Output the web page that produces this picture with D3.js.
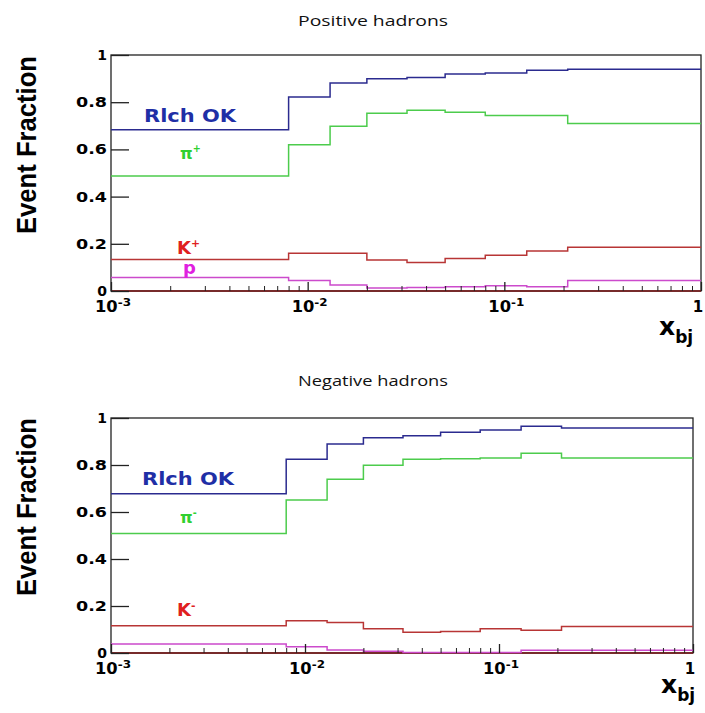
<!DOCTYPE html>
<html>
<head>
<meta charset="utf-8">
<script src="https://cdn.jsdelivr.net/npm/d3@7"></script>
<style>
  html, body { margin: 0; padding: 0; background: #fff; }
  svg { display: block; }
</style>
</head>
<body>
<svg id="chart" width="705" height="713"></svg>
<script>
// ---------- DATA ----------
const binEdges = [0.001, 0.008, 0.013, 0.02, 0.032, 0.05, 0.08, 0.13, 0.21, 1];

// Positive hadrons
const posRichOK = [0.683, 0.822, 0.881, 0.899, 0.905, 0.919, 0.924, 0.935, 0.940];
const posPion   = [0.487, 0.620, 0.698, 0.753, 0.766, 0.757, 0.744, 0.744, 0.710];
const posKaon   = [0.134, 0.160, 0.160, 0.131, 0.121, 0.138, 0.152, 0.169, 0.185];
const posProton = [0.057, 0.044, 0.025, 0.013, 0.015, 0.018, 0.022, 0.018, 0.044];
const posOther  = [0, 0, 0, 0, 0, 0, 0, 0, 0];

// Negative hadrons
const negRichOK = [0.678, 0.824, 0.889, 0.916, 0.925, 0.939, 0.949, 0.965, 0.957];
const negPion   = [0.508, 0.651, 0.739, 0.799, 0.824, 0.827, 0.830, 0.850, 0.830];
const negKaon   = [0.116, 0.137, 0.130, 0.103, 0.088, 0.092, 0.103, 0.097, 0.113];
const negProton = [0.038, 0.027, 0.013, 0.007, 0.002, 0.002, 0.002, 0.012, 0.012];
const negOther  = [0, 0, 0, 0, 0, 0, 0, 0, 0];

const yTickValues = [0, 0.2, 0.4, 0.6, 0.8, 1];
const yTickLabels = ["0", "0.2", "0.4", "0.6", "0.8", "1"];
const xMajorTicks = [0.001, 0.01, 0.1, 1];
const xMajorBase  = ["10", "10", "10", "1"];
const xMajorExp   = ["-3", "-2", "-1", ""];

const titles = ["Positive hadrons", "Negative hadrons"];
const yTitle = "Event Fraction";

// ---------- DRAW ----------
const svg = d3.select("#chart");

const colors = {
  richLine: "#2b2b8f", richText: "#1f2fa6",
  pionLine: "#4ccc4c", pionText: "#2fd02f",
  kaonLine: "#b83535", kaonText: "#e02020",
  protLine: "#cc4acc", protText: "#e020e0",
  other: "#7a1515"
};
const boldFont = "'DejaVu Sans', 'Liberation Sans', Arial, sans-serif";

function drawPanel(cfg) {
  const g = svg.append("g");
  const x = d3.scaleLog().domain([0.001, 1]).range([cfg.left, cfg.right]);
  const y = d3.scaleLinear().domain([0, 1]).range([cfg.bottom, cfg.top]);

  // title
  g.append("text")
    .attr("x", cfg.titleX).attr("y", cfg.titleY)
    .attr("text-anchor", "middle")
    .attr("font-family", "'Open Sans', 'DejaVu Sans', sans-serif")
    .attr("font-size", 15)
    .attr("textLength", 150).attr("lengthAdjust", "spacingAndGlyphs")
    .attr("fill", "#111")
    .text(cfg.title);

  // y title
  g.append("text")
    .attr("transform", `translate(${cfg.yTitleX},${cfg.yTitleY}) rotate(-90)`)
    .attr("text-anchor", "middle")
    .attr("font-family", "'Liberation Sans Narrow', 'Arial Narrow', 'Liberation Sans', sans-serif")
    .attr("font-weight", "bold")
    .attr("font-size", 28)
    .attr("textLength", 178).attr("lengthAdjust", "spacingAndGlyphs")
    .attr("fill", "#000")
    .text(yTitle);

  // frame
  g.append("rect")
    .attr("x", cfg.left).attr("y", cfg.top)
    .attr("width", cfg.right - cfg.left).attr("height", cfg.bottom - cfg.top)
    .attr("fill", "none").attr("stroke", "#222").attr("stroke-width", 1.3);

  // series
  const line = d3.line()
    .x(d => x(d[0])).y(d => y(d[1]))
    .curve(d3.curveStepAfter);
  function pts(vals) {
    const p = vals.map((v, i) => [binEdges[i], v]);
    p.push([binEdges[binEdges.length - 1], vals[vals.length - 1]]);
    return p;
  }
  const series = [
    [cfg.other, colors.other],
    [cfg.prot, colors.protLine],
    [cfg.kaon, colors.kaonLine],
    [cfg.pion, colors.pionLine],
    [cfg.rich, colors.richLine]
  ];
  series.forEach(([vals, col]) => {
    g.append("path")
      .attr("d", line(pts(vals)))
      .attr("fill", "none")
      .attr("stroke", col)
      .attr("stroke-width", 1.5);
  });

  // y axis
  const yAxis = d3.axisLeft(y)
    .tickValues(yTickValues)
    .tickSize(-18)
    .tickPadding(4)
    .tickFormat((d, i) => yTickLabels[i]);
  const ya = g.append("g").attr("transform", `translate(${cfg.left},0)`).call(yAxis);
  ya.select(".domain").remove();
  ya.selectAll(".tick line").attr("stroke", "#222").attr("stroke-width", 1.3);
  ya.selectAll(".tick text")
    .attr("font-family", boldFont)
    .attr("font-weight", "bold").attr("font-size", 14).attr("fill", "#000")
    .each(function(d, i) {
      if (yTickLabels[i].length > 1) d3.select(this).attr("textLength", 31).attr("lengthAdjust", "spacingAndGlyphs");
    });

  // x axis: minor ticks
  const minor = [];
  [0.001, 0.01, 0.1].forEach(dec => { for (let k = 2; k <= 9; k++) minor.push(dec * k); });
  const xMinor = d3.axisBottom(x).tickValues(minor).tickSize(-5).tickFormat("");
  const xm = g.append("g").attr("transform", `translate(0,${cfg.bottom})`).call(xMinor);
  xm.select(".domain").remove();
  xm.selectAll(".tick line").attr("stroke", "#222");

  const xMajor = d3.axisBottom(x).tickValues(xMajorTicks).tickSize(-9).tickFormat("");
  const xa = g.append("g").attr("transform", `translate(0,${cfg.bottom})`).call(xMajor);
  xa.select(".domain").remove();
  xa.selectAll(".tick line").attr("stroke", "#222").attr("stroke-width", 1.3);

  xMajorTicks.forEach((v, i) => {
    const t = g.append("text")
      .attr("x", x(v) + (xMajorExp[i] ? 2 : -3))
      .attr("y", cfg.bottom + 21)
      .attr("text-anchor", "middle")
      .attr("font-family", boldFont)
      .attr("font-weight", "bold").attr("font-size", 15).attr("fill", "#000");
    t.append("tspan").text(xMajorBase[i]);
    if (xMajorExp[i]) {
      t.append("tspan").attr("dy", -6).attr("font-size", 11).text(xMajorExp[i]);
      t.attr("textLength", 36).attr("lengthAdjust", "spacingAndGlyphs");
    }
  });

  // x title
  const xt = g.append("text")
    .attr("x", cfg.xTitleX).attr("y", cfg.xTitleY)
    .attr("font-family", boldFont)
    .attr("font-weight", "bold").attr("fill", "#000");
  xt.append("tspan").attr("font-size", 25).text("x");
  xt.append("tspan").attr("font-size", 17).attr("dy", 8).text("bj");

  // legend labels
  function lab(txt, sup, xx, yy, col, size, len) {
    const t = g.append("text")
      .attr("x", xx).attr("y", yy)
      .attr("font-family", boldFont)
      .attr("font-weight", "bold").attr("font-size", size).attr("fill", col);
    t.append("tspan").text(txt);
    if (sup) t.append("tspan").attr("dy", -7).attr("font-size", size * 0.6).text(sup);
    if (len) t.attr("textLength", len).attr("lengthAdjust", "spacingAndGlyphs");
  }
  cfg.labels.forEach(l => lab(l[0], l[1], l[2], l[3], l[4], l[5], l[6]));
}

drawPanel({
  left: 111, right: 701, top: 55, bottom: 291,
  title: titles[0], titleX: 373, titleY: 26,
  yTitleX: 36, yTitleY: 145,
  xTitleX: 659, xTitleY: 335,
  rich: posRichOK, pion: posPion, kaon: posKaon, prot: posProton, other: posOther,
  labels: [
    ["Rlch OK", "", 144, 122, colors.richText, 17, 92],
    ["π", "+", 180, 159, colors.pionText, 16, 0],
    ["K", "+", 177, 254, colors.kaonText, 18, 0],
    ["p", "", 183, 274, colors.protText, 18, 0]
  ]
});

drawPanel({
  left: 111, right: 693, top: 418, bottom: 653,
  title: titles[1], titleX: 373, titleY: 386,
  yTitleX: 36, yTitleY: 507,
  xTitleX: 661, xTitleY: 693,
  rich: negRichOK, pion: negPion, kaon: negKaon, prot: negProton, other: negOther,
  labels: [
    ["Rlch OK", "", 142, 485, colors.richText, 17, 92],
    ["π", "-", 180, 523, colors.pionText, 16, 0],
    ["K", "-", 177, 616, colors.kaonText, 18, 0]
  ]
});
</script>
</body>
</html>
